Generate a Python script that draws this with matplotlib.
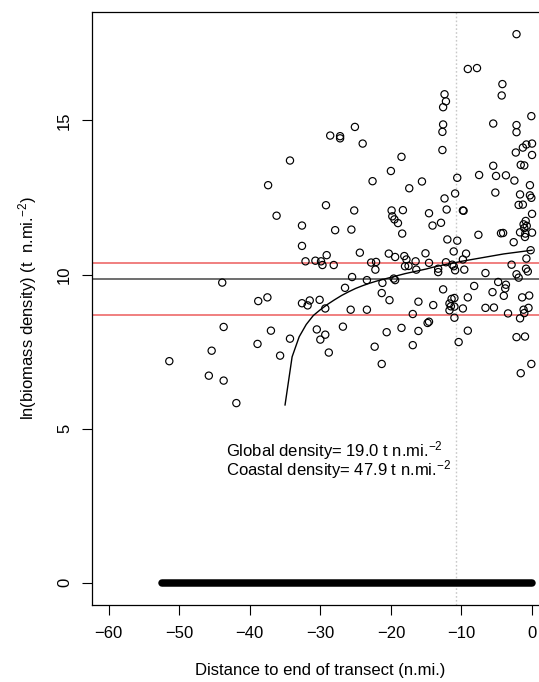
"""
plot.py - ln(biomass density) against distance to end of transect
"""
import matplotlib
matplotlib.use("Agg")
import matplotlib.pyplot as plt

plt.rcParams["font.family"] = ["Liberation Sans", "DejaVu Sans"]
plt.rcParams["mathtext.fontset"] = "custom"
plt.rcParams["mathtext.rm"] = "Liberation Sans"
plt.rcParams["mathtext.it"] = "Liberation Sans:italic"

# ── Data ─────────────────────────────────────────────────────────────────────
pts_x = [-2.2, -9.1, -7.8, -4.2, -4.3, -12.4, -12.2, -12.6, -0.1, -5.5,
         -2.2, -2.2, -12.6, -12.7, -12.7, -24.0, -18.5, -20.0, -22.6, -17.4,
         -15.6, -10.6, -10.9, -12.4, -7.5, -5.5, -5.1, -3.7, -2.5, -1.6,
         -1.1, -2.3, -1.3, -0.8, 0.0, 0.0, -0.3, -1.7, -0.3, -5.2,
         -0.1, -25.1, -28.6, -27.2, -27.2, -34.3, -37.4,
         -29.2, -36.2, -25.2, -32.6, -27.9, -25.6, -32.6, -24.4, -32.1, -30.7,
         -29.9, -29.7, -28.1, -43.9, -25.5, -26.5, -38.8, -37.5, -32.6, -31.5,
         -31.8, -30.1, -29.3, -25.7, -43.7, -37.0, -34.3, -38.9, -30.5, -29.3,
         -30.0, -26.8, -45.4, -35.7, -28.8, -45.8, -43.7, -41.9, -51.4, -29.1,
         -18.4, -20.3, -19.4, -18.1, -17.8, -18.0, -16.5, -16.4, -22.8, -22.1,
         -22.2, -23.4, -21.2, -19.6, -19.4, -21.3, -20.2, -16.1, -23.4, -16.9,
         -20.6, -18.5, -16.1, -22.3, -16.9, -21.3,
         -19.9, -18.3, -19.8, -19.5, -19.0, -14.6, -14.1, -12.9, -12.1, -9.8,
         -9.7, -12.0, -10.6, -7.6, -4.4, -4.1, -2.6, -1.9, -1.3, 0.0,
         -0.9, -1.2, -0.75, -1.1, -1.7, -0.95, -1.0, 0.0, -0.2, -0.8,
         -2.9, -0.85, -0.6, -2.2, -1.9, -6.6, -4.8, -3.7, -3.8, -4.0,
         -5.6, -8.2, -9.1, -0.4, -1.4, -6.6, -5.4, -3.4, -0.5, -1.2,
         -1.1, -1.7, -2.2, -1.0, -0.1, -1.6, -10.4, -9.1, -9.8, -11.0,
         -11.7, -11.7, -11.4, -11.0, -11.5, -11.0, -12.6, -14.0, -14.6, -14.8,
         -17.5, -15.1, -14.6, -13.3, -13.3, -12.2, -11.1, -11.3, -11.1, -10.9,
         -9.35, -9.8, -9.6]
pts_y = [17.8, 16.67, 16.7, 16.18, 15.81, 15.85, 15.62, 15.43, 15.14, 14.9,
         14.85, 14.62, 14.87, 14.63, 14.04, 14.25, 13.82, 13.36, 13.03, 12.8,
         13.02, 13.14, 12.63, 12.47, 13.23, 13.53, 13.2, 13.22, 13.05, 13.56,
         13.54, 13.96, 14.12, 14.22, 14.25, 13.88, 12.9, 12.6, 12.57, 12.66,
         12.49, 14.79, 14.51, 14.49, 14.42, 13.7, 12.9,
         12.25, 11.91, 12.08, 11.59, 11.44, 11.46, 10.93, 10.71, 10.43, 10.45,
         10.43, 10.31, 10.31, 9.74, 9.92, 9.57, 9.14, 9.26, 9.07, 9.16,
         9.0, 9.18, 8.9, 8.86, 8.3, 8.18, 7.92, 7.75, 8.22, 8.05,
         7.89, 8.31, 7.53, 7.37, 7.47, 6.72, 6.56, 5.83, 7.19, 10.63,
         11.33, 10.68, 10.57, 10.6, 10.49, 10.27, 10.43, 10.16, 10.39, 10.41,
         10.16, 9.82, 9.73, 9.87, 9.82, 9.4, 9.17, 9.12, 8.86, 8.72,
         8.13, 8.27, 8.17, 7.66, 7.71, 7.1,
         12.08, 12.09, 11.89, 11.79, 11.67, 11.99, 11.59, 11.68, 12.11, 12.08,
         12.07, 11.14, 11.1, 11.29, 11.34, 11.35, 11.05, 12.26, 12.27, 11.97,
         11.74, 11.63, 11.58, 11.51, 11.37, 11.33, 11.22, 11.36, 10.79, 10.52,
         10.32, 10.19, 10.1, 10.01, 9.9, 10.05, 9.76, 9.67, 9.55, 9.31,
         9.43, 9.63, 9.26, 9.32, 9.26, 8.92, 8.93, 8.74, 8.92, 8.86,
         8.75, 8.58, 7.97, 7.99, 7.1, 6.8, 7.81, 8.18, 8.9, 8.6,
         8.84, 9.06, 9.21, 9.24, 8.97, 8.96, 9.52, 9.01, 8.47, 8.43,
         10.28, 10.69, 10.38, 10.19, 10.08, 10.4, 10.75, 10.32, 10.27, 10.14,
         10.68, 10.49, 10.16]

# zero densities: a solid run of filled points along y = 0
zero_x = [-52.4, -0.05]
zero_y = [0.0, 0.0]

# fitted coastal curve
curve_x = [-35, -34, -33, -32, -31, -30, -29, -28, -27, -26, -25, -24, -23,
           -22, -21, -20, -19, -18, -17, -16, -15, -14, -13, -12, -11, -10,
           -9, -8, -7, -6, -5, -4, -3, -2, -1, 0]
curve_y = [5.77, 7.33, 7.98, 8.38, 8.67, 8.86, 9.03, 9.18, 9.32, 9.44, 9.55,
           9.64, 9.72, 9.79, 9.85, 9.91, 9.97, 10.03, 10.08, 10.13, 10.18,
           10.24, 10.29, 10.34, 10.38, 10.43, 10.47, 10.51, 10.55, 10.59,
           10.63, 10.67, 10.70, 10.73, 10.76, 10.79]

global_mean = 9.85
ci_bounds = [10.38, 8.69]
coast_limit = -10.8

x_ticks = [-60, -50, -40, -30, -20, -10, 0]
y_ticks = [0, 5, 10, 15]

notes = ["Global density= 19.0 t n.mi.$^{-2}$",
         "Coastal density= 47.9 t n.mi.$^{-2}$"]

# ── Figure ───────────────────────────────────────────────────────────────────
fs = 12
fig = plt.figure(figsize=(5.39, 6.82), dpi=100)
ax = fig.add_axes([0.1701, 0.1133, 0.8484, 0.8687])

ax.axvline(coast_limit, color="#c8c8c8", lw=1.0, ls=(0, (1.2, 1.6)), zorder=1)
for yb in ci_bounds:
    ax.axhline(yb, color="#ee6a6a", lw=1.2, zorder=2)
ax.axhline(global_mean, color="#555555", lw=1.2, zorder=2)

ax.plot(zero_x, zero_y, color="black", lw=5.4, solid_capstyle="round", zorder=3)
ax.scatter(pts_x, pts_y, s=27, facecolors="none", edgecolors="black",
           linewidths=0.85, zorder=4)
ax.plot(curve_x, curve_y, color="black", lw=1.0, zorder=5)

# both lines in one text block (reference spacing is tight)
ax.text(-43.4, 3.99, "\n".join(notes), fontsize=fs, ha="left", va="center",
        linespacing=0.78)

ax.set_xlim(-62.4, 2.4)
ax.set_ylim(-0.712, 18.51)
ax.set_xticks(x_ticks)
ax.set_yticks(y_ticks)
ax.set_yticklabels([str(v) for v in y_ticks], rotation=90, va="center")
ax.tick_params(direction="out", length=7, width=0.8, labelsize=fs, pad=8)
ax.tick_params(axis="y", pad=7)
for sp in ax.spines.values():
    sp.set_linewidth(0.9)

ax.set_xlabel("Distance to end of transect (n.mi.)", fontsize=fs, labelpad=16)
ax.set_ylabel(r"ln(biomass density) (t  n.mi.$^{-2}$)", fontsize=fs,
              labelpad=13)

fig.savefig("out.png", dpi=100)
plt.close(fig)
